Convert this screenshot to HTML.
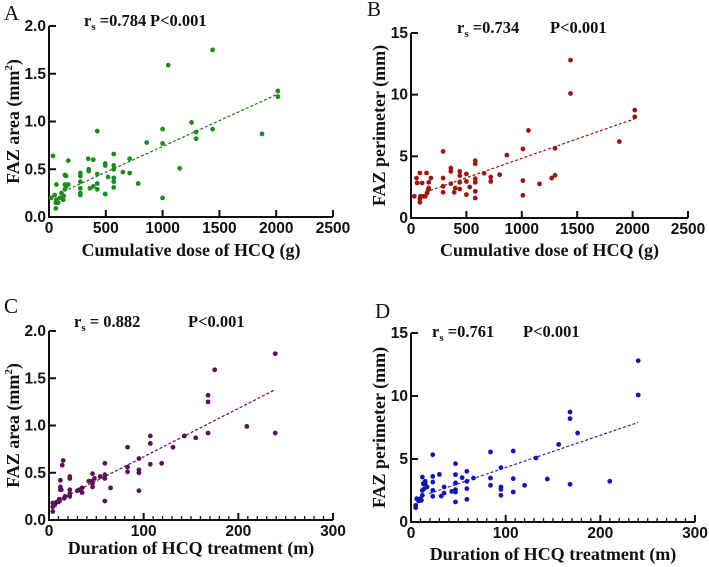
<!DOCTYPE html>
<html><head><meta charset="utf-8"><style>
body{margin:0;background:#fff}
svg{display:block}
.tk{font-family:"Liberation Sans",sans-serif;font-weight:bold;font-size:15.5px;fill:#111}
.ti{font-family:"Liberation Serif",serif;font-weight:bold;font-size:18px;fill:#111}
.pl{font-family:"Liberation Serif",serif;font-size:21px;fill:#111}
.st{font-family:"Liberation Serif",serif;font-weight:bold;font-size:16.5px;fill:#111}
</style></head><body>
<svg id="chart" width="709" height="567" viewBox="0 0 709 567" xmlns="http://www.w3.org/2000/svg"></svg>
<script>
// Panel A: cumulative dose vs FAZ area
const aX=[35,20,50,65,60,60,80,95,110,125,130,140,140,65,140,150,150,170,170,276,276,276,276,276,276,345,350,350,360,390,390,425,425,425,425,495,495,495,520,570,570,570,570,570,570,650,710,710,785,860,1000,1000,1000,1050,1150,1255,1295,1295,1440,1440,1875,2015,2015];
const aY=[0.64,0.2,0.23,0.18,0.15,0.09,0.15,0.2,0.25,0.18,0.22,0.29,0.34,0.34,0.44,0.43,0.32,0.34,0.59,0.46,0.43,0.37,0.30,0.25,0.23,0.61,0.5,0.48,0.3,0.32,0.6,0.9,0.45,0.35,0.29,0.56,0.54,0.24,0.42,0.66,0.54,0.5,0.41,0.37,0.31,0.47,0.61,0.46,0.35,0.78,0.92,0.77,0.2,1.59,0.51,0.99,0.89,0.82,1.75,0.92,0.87,1.32,1.26];
const aTrendX=[170,2020], aTrendY=[0.29,1.29];
// Panel B: cumulative dose vs FAZ perimeter
const bX=[30,50,55,80,80,80,85,100,115,130,140,145,155,160,160,180,290,290,290,290,360,360,360,390,400,440,440,440,440,500,500,500,530,580,580,580,580,580,580,660,720,720,800,865,1010,1010,1010,1060,1160,1270,1300,1300,1440,1440,1880,2020,2020];
const bY=[1.76,3.24,2.84,3.65,1.57,1.27,1.76,2.84,1.76,1.76,3.65,2.03,2.3,2.89,2.43,3.24,5.4,3.24,2.57,2.08,4.05,3.78,2.78,2.08,2.43,3.78,3.43,2.89,2.35,3.57,2.97,1.89,2.51,4.65,4.4,3.19,2.89,2.16,1.62,3.62,3.32,2.97,3.51,5.1,5.6,3.03,1.84,7.1,2.76,3.24,3.46,5.65,12.8,10.1,6.2,8.75,8.2];
const bTrendX=[130,2020], bTrendY=[2.1,8.05];
// Panel C: duration vs FAZ area
const cX=[4,4,4,6,8,10,11,11,12,12,12,13,14,15,16,17,22,22,22,22,22,30,32,35,35,42,45,46,46,46,48,54,59,59,59,59,65,83,83,83,95,95,95,95,107,107,107,119,131,143,155,168,168,168,175,209,239,239];
const cY=[0.09,0.14,0.18,0.16,0.19,0.19,0.2,0.22,0.42,0.32,0.35,0.32,0.58,0.63,0.23,0.25,0.44,0.46,0.32,0.28,0.25,0.31,0.32,0.34,0.29,0.41,0.41,0.35,0.39,0.49,0.44,0.46,0.6,0.48,0.44,0.2,0.34,0.77,0.56,0.51,0.65,0.53,0.5,0.31,0.89,0.81,0.59,0.6,0.77,0.89,0.87,1.32,1.25,0.92,1.59,0.99,1.76,0.92];
const cTrendX=[18,239], cTrendY=[0.25,1.38];
// Panel D: duration vs FAZ perimeter
const dX=[5,5,6,8,10,11,12,12,12,13,14,15,15,17,23,23,23,23,23,30,32,35,35,43,47,47,47,47,47,47,54,59,59,59,59,66,84,84,84,95,95,95,95,108,108,108,120,132,144,156,168,168,168,176,210,240,240];
const dY=[1.14,1.32,1.85,1.67,1.85,1.72,3.57,2.51,2.12,3.04,2.65,3.23,3.04,2.78,5.34,3.62,3.17,2.51,2.04,3.78,2.06,2.78,2.3,2.43,4.63,3.76,3.1,2.57,2.38,1.59,3.52,4.02,3.23,2.65,1.8,3.49,5.56,3.49,2.91,4.31,2.78,2.59,2.12,5.63,3.44,2.38,2.91,5.08,3.41,6.16,8.73,8.2,2.99,7.06,3.23,12.8,10.08];
const dTrendX=[19,240], dTrendY=[2.25,7.9];
const aXTicks=[0,500,1000,1500,2000,2500], aYTicks=["0.0","0.5","1.0","1.5","2.0"];
const bYTicks=["0","5","10","15"];
const cXTicks=[0,100,200,300];

const svg=document.getElementById('chart');
const NS="http://www.w3.org/2000/svg";
function el(tag,attrs,parent,text){const e=document.createElementNS(NS,tag);for(const k in attrs)e.setAttribute(k,attrs[k]);if(text!==undefined)e.textContent=text;(parent||svg).appendChild(e);return e;}

const panels=[
 {id:'a',x0:49,x1:333,y0:217,y1:26,xmax:2500,ymax:2,xt:aXTicks,yt:aYTicks,minor:0,xs:aX,ys:aY,tx:aTrendX,ty:aTrendY,col:'#1e8c1e',lc:'#2e6b2e',letter:'A',lx:4,ly:20,
  xtitle:'Cumulative dose of HCQ (g)',xty:256,ytitle:'FAZ area (mm',sup:true,ytx:19,r:'0.784',rx:84,px:150,sy:26},
 {id:'b',x0:411,x1:688,y0:218,y1:33,xmax:2500,ymax:15,xt:aXTicks,yt:bYTicks,minor:0,xs:bX,ys:bY,tx:bTrendX,ty:bTrendY,col:'#a01414',lc:'#a01414',letter:'B',lx:367,ly:16,
  xtitle:'Cumulative dose of HCQ (g)',xty:256,ytitle:'FAZ perimeter (mm)',sup:false,ytx:385,r:'0.734',rx:457,px:550,sy:33},
 {id:'c',x0:49,x1:333,y0:520,y1:331,xmax:300,ymax:2,xt:cXTicks,yt:aYTicks,minor:10,xs:cX,ys:cY,tx:cTrendX,ty:cTrendY,col:'#5c1256',lc:'#5c1256',letter:'C',lx:4,ly:313,
  xtitle:'Duration of HCQ treatment (m)',xty:554,ytitle:'FAZ area (mm',sup:true,ytx:19,r:' 0.882',rx:74,px:188,sy:327},
 {id:'d',x0:411,x1:695,y0:522,y1:333,xmax:300,ymax:15,xt:cXTicks,yt:bYTicks,minor:10,xs:dX,ys:dY,tx:dTrendX,ty:dTrendY,col:'#1414b4',lc:'#2a2aa8',letter:'D',lx:375,ly:318,
  xtitle:'Duration of HCQ treatment (m)',xty:560,ytitle:'FAZ perimeter (mm)',sup:false,ytx:385,r:'0.761',rx:432,px:523,sy:337}
];

panels.forEach(p=>{
 const g=el('g',{});
 
 
 const sx=v=>p.x0+v/p.xmax*(p.x1-p.x0);
 const sy=v=>p.y0-v/p.ymax*(p.y0-p.y1);
 const lt=el('text',{x:p.lx,y:p.ly,class:'pl'},g,p.letter);
 
 
 const xa=el('line',{x1:p.x0,y1:p.y0,x2:p.x1,y2:p.y0,stroke:'#111','stroke-width':2},g);
 
 
 const ya=el('line',{x1:p.x0,y1:p.y0+1,x2:p.x0,y2:p.y1,stroke:'#111','stroke-width':2},g);
 
 
 if(p.minor){for(let v=p.minor;v<p.xmax;v+=p.minor){if(v%100===0)continue;el('line',{x1:sx(v),y1:p.y0,x2:sx(v),y2:p.y0-4,stroke:'#111','stroke-width':1.3},g);}}
 p.xt.forEach(v=>{
  el('line',{x1:sx(v),y1:p.y0,x2:sx(v),y2:p.y0-7,stroke:'#111','stroke-width':2},g);
  const t=el('text',{x:sx(v),y:p.y0+16,'text-anchor':'middle',class:'tk'},g,String(v));
  
  
 });
 p.yt.forEach(s=>{
  const v=parseFloat(s);
  el('line',{x1:p.x0,y1:sy(v),x2:p.x0+7,y2:sy(v),stroke:'#111','stroke-width':2},g);
  const t=el('text',{x:p.x0-3,y:sy(v)+5,'text-anchor':'end',class:'tk'},g,s);
  
  
 });
 const xt=el('text',{x:(p.x0+p.x1)/2,y:p.xty,'text-anchor':'middle',class:'ti'},g,p.xtitle);
 
 
 const cy=(p.y0+p.y1)/2;
 const yt=el('text',{x:p.ytx,y:cy,'text-anchor':'middle',class:'ti',transform:'rotate(-90 '+p.ytx+' '+cy+')'},g,p.ytitle);
 if(p.sup){el('tspan',{dy:-7,'font-size':11},yt,'2');el('tspan',{dy:7},yt,')');}
 
 
 const st=el('text',{x:p.rx,y:p.sy,class:'st'},g,'r');
 el('tspan',{dy:4,'font-size':11},st,'s');
 el('tspan',{dy:-4},st,' ='+p.r);
 
 
 const pv=el('text',{x:p.px,y:p.sy,class:'st'},g,'P<0.001');
 
 
 const tl=el('line',{x1:sx(p.tx[0]),y1:sy(p.ty[0]),x2:sx(p.tx[1]),y2:sy(p.ty[1]),stroke:p.lc,'stroke-width':1.2,'stroke-dasharray':'3,2'},g);
 
 
 p.xs.forEach((v,i)=>{
  const c=el('circle',{cx:sx(v),cy:sy(p.ys[i]),r:2.4,fill:p.col},g);
  
  
 });
});
</script>
</body></html>
